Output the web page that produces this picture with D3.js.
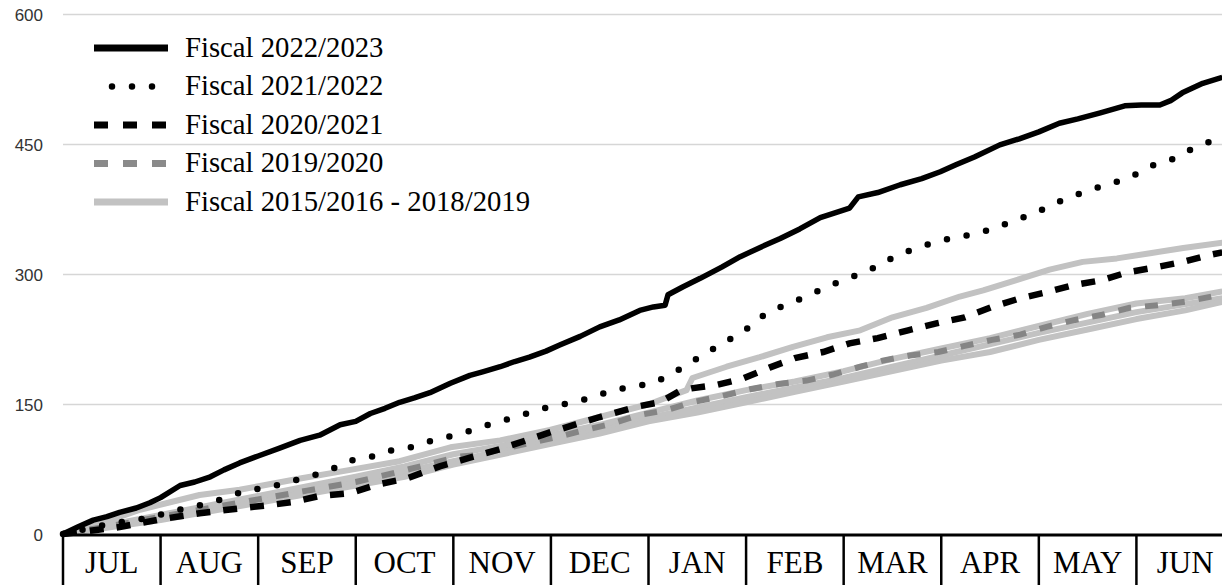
<!DOCTYPE html>
<html>
<head>
<meta charset="utf-8">
<script src="https://cdn.jsdelivr.net/npm/d3@7"></script>
<style>
  html, body { margin: 0; padding: 0; background: #fff; }
  svg { display: block; }
</style>
</head>
<body>
<svg id="chart" width="1222" height="585"></svg>
<script>
// ---------- DATA ----------
const months = ["JUL","AUG","SEP","OCT","NOV","DEC","JAN","FEB","MAR","APR","MAY","JUN"];
const yTicks = [0, 150, 300, 450, 600];
const legendLabels = ["Fiscal 2022/2023","Fiscal 2021/2022","Fiscal 2020/2021","Fiscal 2019/2020","Fiscal 2015/2016 - 2018/2019"];

// x = position in fiscal year measured in months (0 = Jul 1), y = cumulative count
const fy2022_23 = [[0,0],[0.15,8],[0.31,16],[0.45,20],[0.58,25],[0.75,30],[0.89,36],[1.0,42],[1.2,56],[1.35,60],[1.51,66],[1.65,74],[1.81,82],[2.0,90],[2.22,99],[2.43,108],[2.63,114],[2.84,126],[3.0,130],[3.15,139],[3.3,145],[3.45,152],[3.6,157],[3.76,163],[3.97,174],[4.17,183],[4.3,187],[4.48,193],[4.63,199],[4.78,204],[4.95,211],[5.09,218],[5.3,228],[5.5,239],[5.7,247],[5.91,258],[6.05,262],[6.17,264],[6.2,276],[6.35,285],[6.53,295],[6.75,308],[6.94,320],[7.15,331],[7.35,341],[7.55,352],[7.76,365],[7.95,372],[8.06,376],[8.15,389],[8.35,394],[8.58,403],[8.8,410],[8.99,418],[9.15,426],[9.34,435],[9.6,449],[9.8,456],[10.0,464],[10.21,474],[10.4,479],[10.63,486],[10.88,494],[11.05,495],[11.24,495],[11.35,500],[11.47,509],[11.68,520],[11.88,527]];

const fy2021_22 = [[0,0],[0.2,5],[0.41,10],[0.61,14],[0.84,18],[1.06,24],[1.26,30],[1.48,35],[1.68,42],[1.89,51],[2.09,53],[2.31,60],[2.51,66],[2.73,73],[2.91,84],[3.13,88],[3.34,96],[3.56,100],[3.76,107],[3.98,113],[4.17,119],[4.36,126],[4.58,133],[4.78,140],[4.99,147],[5.2,151],[5.41,157],[5.61,165],[5.83,170],[6.05,174],[6.24,185],[6.42,197],[6.61,210],[6.79,222],[6.98,234],[7.13,249],[7.33,261],[7.53,270],[7.73,280],[7.93,290],[8.14,299],[8.33,308],[8.52,320],[8.72,329],[8.92,336],[9.13,342],[9.34,346],[9.56,353],[9.75,362],[9.96,370],[10.15,381],[10.35,390],[10.55,398],[10.76,405],[10.96,413],[11.16,425],[11.36,432],[11.55,443],[11.74,452],[11.88,458]];

const fy2020_21 = [[0,0],[0.3,4],[0.58,8],[1.0,17],[1.4,24],[1.84,30],[2.09,33],[2.36,37],[2.63,44],[2.94,47],[3.22,57],[3.52,64],[3.86,78],[4.17,88],[4.48,98],[5.01,118],[5.5,135],[5.88,147],[6.12,152],[6.32,165],[6.44,168],[6.7,172],[6.96,179],[7.24,192],[7.5,203],[7.79,210],[8.06,220],[8.35,226],[8.66,235],[8.95,243],[9.24,250],[9.52,262],[9.81,272],[10.08,279],[10.35,287],[10.65,293],[10.91,302],[11.21,308],[11.48,314],[11.75,322],[11.88,325]];

const fy2019_20 = [[0,0],[0.48,9],[1.0,20],[1.51,30],[2.0,40],[2.5,50],[3.0,60],[3.45,72],[3.73,80],[4.04,89],[4.24,91],[4.5,98],[4.78,105],[5.07,112],[5.35,120],[5.62,127],[5.89,137],[6.19,143],[6.45,152],[6.75,159],[7.04,167],[7.33,173],[7.62,177],[7.89,184],[8.17,193],[8.4,200],[8.68,206],[8.97,210],[9.24,217],[9.52,224],[9.81,230],[10.08,239],[10.37,247],[10.65,253],[10.93,261],[11.22,264],[11.5,268],[11.77,274],[11.88,276]];

const fyPrior1 = [[0,0],[0.38,12],[0.79,28],[1.4,45],[1.81,51],[2.43,64],[2.84,72],[3.45,84],[3.97,100],[4.48,108],[4.99,120],[5.5,135],[6.01,150],[6.39,166],[6.45,180],[6.8,193],[7.14,204],[7.48,216],[7.83,227],[8.17,235],[8.5,250],[8.85,261],[9.19,274],[9.43,281],[9.77,293],[10.11,305],[10.45,314],[10.8,318],[11.14,324],[11.48,330],[11.88,336]];
const fyPrior2 = [[0,0],[1,22],[2,44],[3,66],[3.5,78],[4,92],[4.5,102],[5,114],[5.5,126],[6,140],[6.5,154],[7,166],[7.5,176],[8,188],[8.5,202],[9,214],[9.5,226],[10,240],[10.5,254],[11,266],[11.5,272],[11.88,280]];
const fyPrior3 = [[0,0],[1,16],[2,36],[3,56],[3.5,66],[4,80],[4.5,92],[5,104],[5.5,116],[6,130],[6.5,140],[7,152],[7.5,164],[8,176],[8.5,188],[9,200],[9.5,210],[10,224],[10.5,236],[11,248],[11.5,258],[11.88,268]];
const fyPrior4 = [[0,0],[1,19],[2,40],[3,60],[4,84],[5,108],[6,134],[7,158],[8,180],[9,206],[10,232],[11,256],[11.88,272]];

// ---------- LAYOUT ----------
const W = 1222, H = 585;
const padL = 63, padR = 1234, padT = 14, padB = 534;
const svg = d3.select("#chart");

const x = d3.scaleLinear().domain([0, 12]).range([padL, padR]);
const y = d3.scaleLinear().domain([0, 600]).range([padB, padT]);
const band = d3.scaleBand().domain(months).range([padL, padR]).paddingInner(0).paddingOuter(0);

// gridlines
const grid = svg.append("g").attr("transform", `translate(${padL},0)`)
  .call(d3.axisLeft(y).tickValues(yTicks.filter(d => d > 0)).tickSize(-(W - padL)).tickFormat(""));
grid.select(".domain").remove();
grid.selectAll("line").attr("stroke", "#d6d6d6").attr("stroke-width", 1.4);

// y labels
const yAx = svg.append("g").attr("transform", `translate(43,0)`)
  .call(d3.axisLeft(y).tickValues(yTicks).tickSize(0).tickPadding(0).tickFormat(d3.format("d")));
yAx.select(".domain").remove();
yAx.selectAll("text").attr("font-family", "'Liberation Sans', Arial, sans-serif")
  .attr("font-size", 17).attr("fill", "#333").attr("dy", "0.62em").attr("y", -4);

// series
const line = d3.line().x(d => x(d[0])).y(d => y(d[1])).curve(d3.curveLinear);
const plot = svg.append("g");

const priors = [fyPrior4, fyPrior3, fyPrior2, fyPrior1];
priors.forEach(s => {
  plot.append("path").datum(s).attr("d", line).attr("fill", "none")
    .attr("stroke", "#c2c2c2").attr("stroke-width", 6).attr("stroke-linejoin", "round");
});
plot.append("path").datum(fy2019_20).attr("d", line).attr("fill", "none")
  .attr("stroke", "#858585").attr("stroke-width", 6).attr("stroke-dasharray", "13 14");
plot.append("path").datum(fy2020_21).attr("d", line).attr("fill", "none")
  .attr("stroke", "#000").attr("stroke-width", 6.5).attr("stroke-dasharray", "14 13");
plot.append("path").datum(fy2021_22).attr("d", line).attr("fill", "none")
  .attr("stroke", "#000").attr("stroke-width", 6.5).attr("stroke-dasharray", "0 20")
  .attr("stroke-linecap", "round");
plot.append("path").datum(fy2022_23).attr("d", line).attr("fill", "none")
  .attr("stroke", "#000").attr("stroke-width", 5.5).attr("stroke-linejoin", "round");

// month boxes
const xAx = svg.append("g").attr("transform", `translate(0,${padB + 1})`)
  .call(d3.axisBottom(band).tickSize(0).tickPadding(0));
xAx.select(".domain").remove();
xAx.selectAll("text").attr("font-family", "'Liberation Serif', 'Times New Roman', serif")
  .attr("font-size", 31).attr("fill", "#000").attr("dy", 0).attr("y", 38);
svg.append("line").attr("x1", padL - 1).attr("x2", W).attr("y1", padB + 1).attr("y2", padB + 1)
  .attr("stroke", "#000").attr("stroke-width", 3);
svg.append("g").selectAll("line").data(months).join("line")
  .attr("x1", d => band(d)).attr("x2", d => band(d))
  .attr("y1", padB).attr("y2", H)
  .attr("stroke", "#000").attr("stroke-width", 2.5);

// legend
const legendStyles = [
  {stroke: "#000", width: 7, dash: null, cap: "butt"},
  {stroke: "#000", width: 6.5, dash: "0 20", cap: "round"},
  {stroke: "#000", width: 7, dash: "14 15", cap: "butt"},
  {stroke: "#8a8a8a", width: 7, dash: "14 15", cap: "butt"},
  {stroke: "#c2c2c2", width: 7, dash: null, cap: "butt"}
];
const legY = d3.scalePoint().domain(legendLabels).range([48, 202]);
const leg = svg.append("g").selectAll("g").data(legendLabels).join("g")
  .attr("transform", d => `translate(0,${legY(d)})`);
leg.append("line").attr("x1", (d, i) => i === 1 ? 112 : 94).attr("x2", (d, i) => i === 1 ? 160 : 168)
  .attr("y1", 0).attr("y2", 0)
  .attr("stroke", (d, i) => legendStyles[i].stroke)
  .attr("stroke-width", (d, i) => legendStyles[i].width)
  .attr("stroke-dasharray", (d, i) => legendStyles[i].dash)
  .attr("stroke-linecap", (d, i) => legendStyles[i].cap);
leg.append("text").attr("x", 185).attr("y", 8.5)
  .attr("font-family", "'Liberation Serif', 'Times New Roman', serif")
  .attr("font-size", 28.7).attr("fill", "#000").text(d => d);
</script>
</body>
</html>
